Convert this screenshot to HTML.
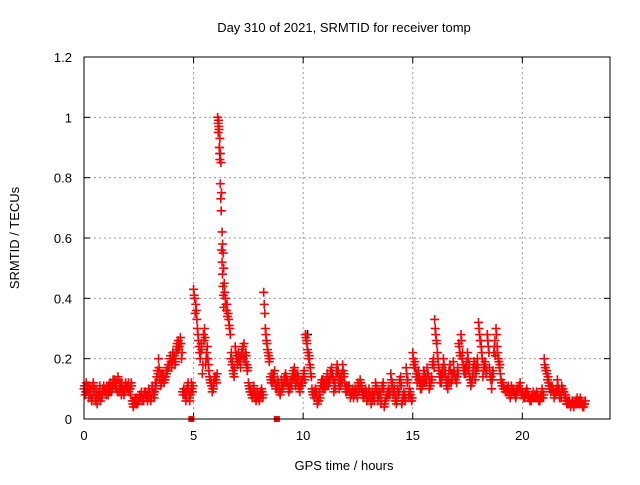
<!DOCTYPE html>
<html><head><meta charset="utf-8"><style>
body{margin:0;background:#fff}
text{font-family:"Liberation Sans",sans-serif;font-size:13px;fill:#000}
</style></head><body>
<svg id="chart" width="640" height="480" xmlns="http://www.w3.org/2000/svg">
<rect width="640" height="480" fill="#fff"/>
<text x="344" y="32" text-anchor="middle">Day 310 of 2021, SRMTID for receiver tomp</text>
<text transform="translate(19,238) rotate(-90)" text-anchor="middle" font-size="14">SRMTID / TECUs</text>
<text x="344" y="470" text-anchor="middle">GPS time / hours</text>
<g id="grid"></g><g id="ticks"></g><g id="marks"></g>
<rect x="84" y="57" width="526" height="362" fill="none" stroke="#000" stroke-width="1"/>
</svg>
<script>
const xTicks=[0,5,10,15,20];
const yTicks=[0,0.2,0.4,0.6,0.8,1,1.2];
const yTickLabels=["0","0.2","0.4","0.6","0.8","1","1.2"];
const seriesA=[.10,.12,.09,.08,.11,.07,.05,.09,.08,.11,
.09,.08,.12,.10,.13,.11,.09,.08,.10,.12,
.11,.10,.06,.05,.07,.06,.08,.07,.09,.06,
.08,.10,.07,.12,.20,.11,.14,.13,.16,.18,
.17,.20,.22,.26,.27,.09,.08,.10,.07,.12,
.43,.38,.28,.20,.15,.30,.22,.16,.12,.10,
.14,1.00,.93,.62,.45,.36,.33,.20,.16,.24,
.18,.20,.22,.25,.21,.12,.10,.08,.07,.09,
.06,.10,.42,.28,.22,.14,.12,.16,.10,.09,
.13,.11,.15,.12,.10,.14,.17,.12,.11,.13,
.14,.28,.23,.18,.10,.07,.09,.06,.11,.13,
.10,.15,.12,.17,.09,.14,.16,.11,.18,.12,
.09,.11,.08,.07,.10,.12,.13,.08,.09,.06,
.10,.05,.08,.12,.06,.09,.11,.04,.07,.10,
.15,.08,.06,.10,.13,.05,.09,.17,.07,.08,
.22,.19,.12,.14,.10,.16,.12,.15,.11,.18,
.33,.25,.16,.12,.20,.14,.10,.18,.13,.15,
.12,.25,.28,.18,.15,.22,.14,.12,.19,.16,
.32,.26,.14,.19,.28,.17,.10,.22,.30,.20,
.15,.12,.10,.09,.08,.11,.10,.07,.09,.12,
.09,.07,.10,.08,.06,.09,.07,.08,.06,.10,
.20,.16,.12,.09,.10,.08,.13,.07,.11,.09,
.06,.05,.04,.06,.05,.07,.05,.06,.04];
const seriesB=[.08,.10,.11,.06,.09,.10,.08,.06,.10,.09,
.11,.10,.09,.12,.10,.14,.12,.10,.09,.11,
.09,.12,.04,.07,.05,.08,.06,.09,.07,.10,
.06,.09,.12,.16,.13,.15,.12,.16,.18,.21,
.22,.18,.25,.24,.20,.10,.06,.12,.08,.09,
.40,.33,.24,.25,.28,.18,.20,.13,.09,.14,
.12,.97,.85,.55,.40,.34,.30,.18,.14,.20,
.22,.17,.24,.19,.16,.10,.08,.11,.06,.08,
.09,.07,.35,.25,.19,.12,.15,.10,.13,.08,
.10,.14,.12,.09,.13,.16,.11,.15,.09,.12,
.16,.26,.20,.15,.08,.10,.05,.08,.13,.10,
.13,.11,.16,.14,.12,.18,.10,.15,.14,.09,
.11,.07,.10,.09,.08,.10,.11,.07,.10,.08,
.07,.09,.06,.10,.08,.05,.12,.06,.09,.08,
.11,.10,.05,.08,.14,.07,.06,.12,.10,.06,
.18,.14,.16,.10,.13,.12,.17,.10,.14,.20,
.28,.20,.12,.17,.15,.11,.16,.12,.19,.13,
.17,.22,.20,.15,.19,.16,.11,.17,.13,.20,
.28,.22,.18,.15,.24,.13,.16,.26,.24,.17,
.12,.10,.09,.11,.07,.09,.08,.10,.11,.08,
.07,.09,.08,.06,.08,.07,.09,.06,.08,.07,
.17,.13,.10,.11,.07,.10,.09,.08,.10,.07,
.05,.06,.05,.04,.06,.05,.07,.04,.05];
const seriesC=[.11,.09,.07,.10,.12,.06,.08,.11,.07,.10,
.08,.11,.10,.13,.12,.09,.11,.12,.08,.10,
.12,.08,.05,.06,.05,.07,.09,.06,.08,.07,
.07,.11,.09,.14,.17,.12,.15,.14,.17,.20,
.19,.21,.24,.23,.25,.08,.09,.11,.06,.10,
.41,.36,.26,.22,.18,.27,.24,.14,.11,.12,
.13,.95,.88,.58,.42,.38,.31,.22,.15,.22,
.20,.19,.23,.21,.18,.11,.09,.10,.08,.07,
.07,.09,.38,.26,.21,.13,.14,.12,.11,.10,
.12,.13,.14,.10,.12,.15,.14,.13,.10,.11,
.15,.27,.22,.17,.09,.08,.07,.09,.12,.11,
.12,.14,.13,.15,.11,.16,.12,.13,.16,.10,
.10,.09,.09,.08,.09,.11,.12,.09,.08,.07,
.09,.06,.07,.11,.07,.08,.10,.05,.08,.09,
.13,.09,.07,.09,.12,.06,.08,.15,.08,.07,
.20,.17,.14,.12,.11,.15,.13,.14,.12,.19,
.30,.22,.14,.15,.18,.12,.13,.16,.15,.14,
.14,.24,.26,.16,.17,.20,.13,.14,.18,.18,
.30,.24,.16,.17,.26,.15,.13,.24,.28,.19,
.13,.11,.09,.10,.09,.10,.09,.08,.10,.10,
.08,.08,.09,.07,.07,.08,.08,.07,.07,.09,
.18,.15,.11,.10,.09,.09,.11,.08,.10,.08,
.05,.06,.05,.05,.06,.06,.06,.05,.05];
const seriesD=[.09,.11,.10,.07,.10,.08,.07,.08,.09,.10,
.10,.09,.11,.11,.12,.13,.10,.09,.11,.10,
.10,.11,.06,.05,.06,.07,.07,.08,.08,.09,
.07,.08,.10,.15,.15,.13,.13,.15,.17,.19,
.20,.19,.23,.25,.22,.09,.07,.09,.09,.11,
.35,.30,.22,.23,.26,.20,.18,.12,.10,.13,
.15,.90,.75,.50,.38,.35,.28,.19,.17,.21,
.19,.21,.20,.22,.17,.09,.07,.09,.07,.08,
.08,.08,.30,.23,.20,.15,.13,.11,.12,.09,
.11,.12,.13,.11,.11,.13,.15,.14,.12,.12,
.13,.25,.21,.14,.09,.09,.06,.07,.10,.12,
.11,.13,.15,.13,.10,.15,.14,.12,.15,.11,
.10,.08,.09,.10,.07,.09,.10,.08,.09,.07,
.08,.07,.09,.09,.09,.06,.10,.07,.08,.09,
.12,.09,.06,.09,.11,.08,.07,.13,.09,.07,
.17,.15,.13,.13,.12,.14,.15,.12,.13,.17,
.26,.18,.15,.14,.16,.13,.12,.15,.16,.14,
.15,.21,.22,.17,.16,.18,.12,.15,.15,.17,
.26,.20,.17,.16,.22,.14,.15,.21,.22,.18,
.11,.10,.10,.10,.08,.09,.09,.09,.10,.09,
.08,.08,.07,.07,.07,.08,.07,.07,.07,.08,
.16,.14,.11,.10,.08,.09,.10,.07,.09,.08,
.06,.05,.06,.05,.05,.06,.05,.05,.06];
const peakTimes=[6.12,6.14,6.16,6.18,6.2,6.22,6.24,6.26,6.28,6.3,6.32,6.34,6.36,6.38];
const peakValues=[0.98,0.99,0.96,0.9,0.86,0.78,0.73,0.69,0.56,0.52,0.48,0.44,0.41,0.37];
const blackTimes=[6.2,10.2];
const blackValues=[0.88,0.28];
const gapTimes=[4.9,8.8];
const gapValues=[0,0];
const step=0.1;
const X=v=>84+v*(526/24);
const Y=v=>419-v*(362/1.2);
const NS="http://www.w3.org/2000/svg";
function mk(tag,attrs,parent){const e=document.createElementNS(NS,tag);for(const k in attrs)e.setAttribute(k,attrs[k]);parent.appendChild(e);return e;}
const grid=document.getElementById('grid'),ticks=document.getElementById('ticks'),marks=document.getElementById('marks');
xTicks.forEach(t=>{const x=X(t);
 if(t>0){const g=mk('line',{x1:x,x2:x,y1:57,y2:419,stroke:'#999','stroke-dasharray':'2,3'},grid);
 
 }
 mk('line',{x1:x,x2:x,y1:419,y2:413,stroke:'#000'},ticks);
 mk('line',{x1:x,x2:x,y1:57,y2:63,stroke:'#000'},ticks);
 const l=mk('text',{x:x,y:440,'text-anchor':'middle'},ticks);l.textContent=t;
 
 });
yTicks.forEach((t,i)=>{const y=Y(t);
 if(t>0&&t<1.2){const g=mk('line',{x1:84,x2:610,y1:y,y2:y,stroke:'#999','stroke-dasharray':'2,3'},grid);
 
 }
 mk('line',{x1:84,x2:90,y1:y,y2:y,stroke:'#000'},ticks);
 mk('line',{x1:610,x2:604,y1:y,y2:y,stroke:'#000'},ticks);
 const l=mk('text',{x:72,y:y+5,'text-anchor':'end'},ticks);l.textContent=yTickLabels[i];
 
 });
function plus(t,v,color){const x=X(t),y=Y(v);
 const p=mk('path',{d:`M${x-4.5} ${y}h9M${x} ${y-4.5}v9`,stroke:color,'stroke-width':1.6,fill:'none'},marks);
 
 }
blackTimes.forEach((t,i)=>plus(t,blackValues[i],'#000'));
seriesA.forEach((v,i)=>plus(i*step,v,'#f00'));
seriesC.forEach((v,i)=>plus(i*step+0.025,v,'#f00'));
seriesB.forEach((v,i)=>plus(i*step+0.05,v,'#f00'));
seriesD.forEach((v,i)=>plus(i*step+0.075,v,'#f00'));
peakTimes.forEach((t,i)=>plus(t,peakValues[i],'#f00'));
gapTimes.forEach((t,i)=>{const r=mk('rect',{x:X(t)-3,y:Y(gapValues[i])-3,width:6,height:6,fill:'#f00'},marks);
 
 });
</script>
</body></html>
